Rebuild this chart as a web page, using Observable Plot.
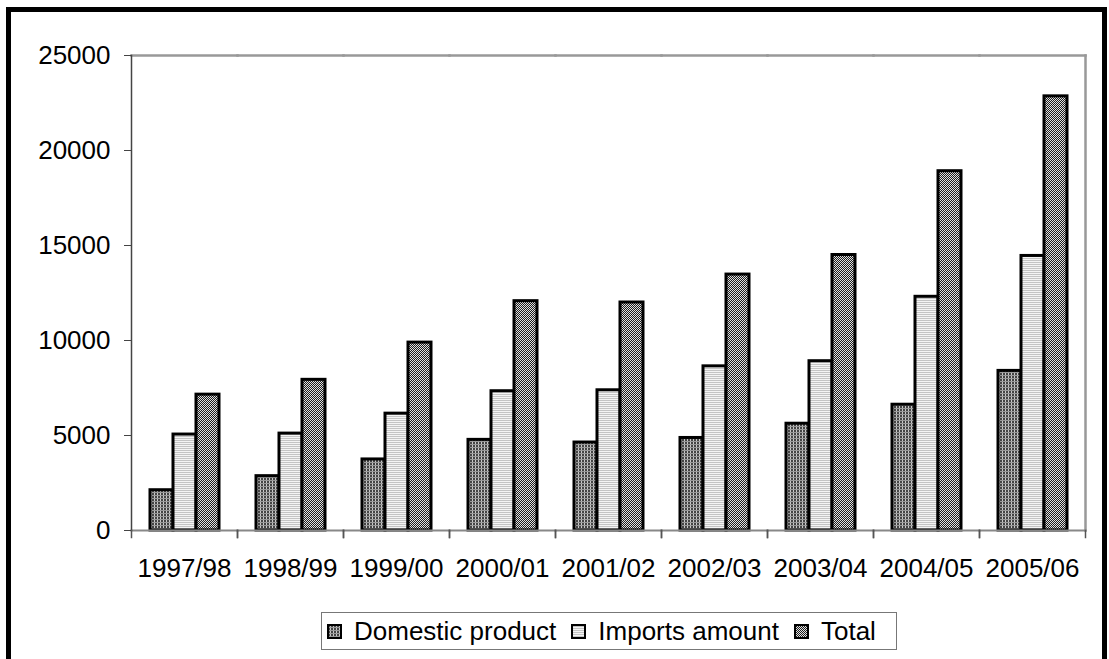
<!DOCTYPE html>
<html>
<head>
<meta charset="utf-8">
<script src="https://cdn.jsdelivr.net/npm/d3@7"></script>
<script src="https://cdn.jsdelivr.net/npm/@observablehq/plot@0.6"></script>
<style>
  html, body { margin: 0; padding: 0; background: #fff; }
  body { width: 1109px; height: 659px; overflow: hidden; position: relative; font-family: "Liberation Sans", Arial, sans-serif; }
  #frame { position: absolute; left: 6px; top: 7px; width: 1091px; height: 700px; border: 5px solid #000; background: #fff; }
  #legend { position: absolute; left: 310px; top: 600px; display: inline-flex; align-items: center; border: 1px solid #777; height: 36px; padding: 0 20px 0 5px; font-size: 26px; color: #000; white-space: nowrap; }
  #legend .item { display: inline-flex; align-items: center; margin-right: 15px; }
  #legend .item:last-child { margin-right: 0; }
  #legend svg { margin-right: 12px; display: block; }
</style>
</head>
<body>
<svg width="0" height="0" style="position:absolute">
  <defs>
    <pattern id="pDom" patternUnits="userSpaceOnUse" width="3" height="3">
      <rect width="3" height="3" fill="#444"/>
      <rect x="0" y="0" width="1" height="3" fill="#c8c8c8"/>
      <rect x="0" y="0" width="3" height="1" fill="#999"/>
    </pattern>
    <pattern id="pImp" patternUnits="userSpaceOnUse" width="2" height="2">
      <rect width="2" height="2" fill="#f4f4f4"/>
      <rect x="0" y="0" width="2" height="1" fill="#c4c4c4"/>
    </pattern>
    <pattern id="pTot" patternUnits="userSpaceOnUse" width="2" height="2">
      <rect width="2" height="2" fill="#e0e0e0"/>
      <rect x="0" y="0" width="1" height="1" fill="#1e1e1e"/>
      <rect x="1" y="1" width="1" height="1" fill="#1e1e1e"/>
    </pattern>
  </defs>
</svg>
<div id="frame">
  <div id="chart"></div>
  <div id="legend"></div>
</div>
<script>
const years = ["1997/98","1998/99","1999/00","2000/01","2001/02","2002/03","2003/04","2004/05","2005/06"];
const series = ["Domestic product","Imports amount","Total"];
const domestic = [2120, 2860, 3740, 4770, 4630, 4870, 5620, 6620, 8400];
const imports  = [5050, 5100, 6150, 7330, 7380, 8640, 8910, 12300, 14450];
const total    = [7150, 7930, 9890, 12070, 12000, 13470, 14500, 18910, 22850];
const yTicks = [0, 5000, 10000, 15000, 20000, 25000];
const patterns = ["url(#pDom)", "url(#pImp)", "url(#pTot)"];

const values = [domestic, imports, total];
const data = years.flatMap((year, i) => series.map((s, k) => ({year, series: s, value: values[k][i]})));

const H = 590, MT = 43, MB = 72;
const chart = Plot.plot({
  width: 1091,
  height: H,
  marginLeft: 118,
  marginRight: 16,
  marginTop: MT,
  marginBottom: MB,
  style: {fontFamily: "'Liberation Sans', Arial, sans-serif", fontSize: "26px", color: "#000", background: "transparent", overflow: "visible"},
  fx: {domain: years, padding: 0, axis: null, label: null},
  x: {domain: series, paddingInner: 0, paddingOuter: 0.8, axis: null, label: null},
  y: {domain: [0, 25000], axis: null, label: null},
  color: {domain: series, range: patterns},
  marks: [
    Plot.frame({anchor: "top", stroke: "#999", strokeWidth: 2.5}),
    Plot.frame({anchor: "right", facetAnchor: "right", stroke: "#999", strokeWidth: 2.5}),
    Plot.barY(data, {fx: "year", x: "series", y: "value", fill: "series", stroke: "#000", strokeWidth: 3}),
    Plot.frame({anchor: "bottom", stroke: "#888", strokeWidth: 2}),
    Plot.frame({anchor: "left", facetAnchor: "left", stroke: "#444", strokeWidth: 1.5}),
    Plot.frame({anchor: "left", insetTop: H - MT - MB, insetBottom: -7, stroke: "#555", strokeWidth: 1.5}),
    Plot.frame({anchor: "right", insetTop: H - MT - MB, insetBottom: -7, stroke: "#555", strokeWidth: 1.5}),
    Plot.axisY({ticks: yTicks, tickFormat: "d", tickSize: 7, tickPadding: 14, fontSize: 26, stroke: "#444", label: null}),
    Plot.axisFx({anchor: "bottom", tickSize: 0, tickPadding: 28, fontSize: 26, label: null})
  ]
});
document.getElementById("chart").appendChild(chart);

const legend = document.getElementById("legend");
series.forEach((s, k) => {
  const item = document.createElement("span");
  item.className = "item";
  const sw = document.createElementNS("http://www.w3.org/2000/svg", "svg");
  sw.setAttribute("width", "15");
  sw.setAttribute("height", "15");
  const r = document.createElementNS("http://www.w3.org/2000/svg", "rect");
  r.setAttribute("x", "1"); r.setAttribute("y", "1");
  r.setAttribute("width", "13"); r.setAttribute("height", "13");
  r.setAttribute("fill", chart.scale("color").apply(s));
  r.setAttribute("stroke", "#000"); r.setAttribute("stroke-width", "2");
  sw.appendChild(r);
  item.appendChild(sw);
  const t = document.createElement("span");
  t.textContent = s;
  item.appendChild(t);
  legend.appendChild(item);
});
</script>
</body>
</html>
